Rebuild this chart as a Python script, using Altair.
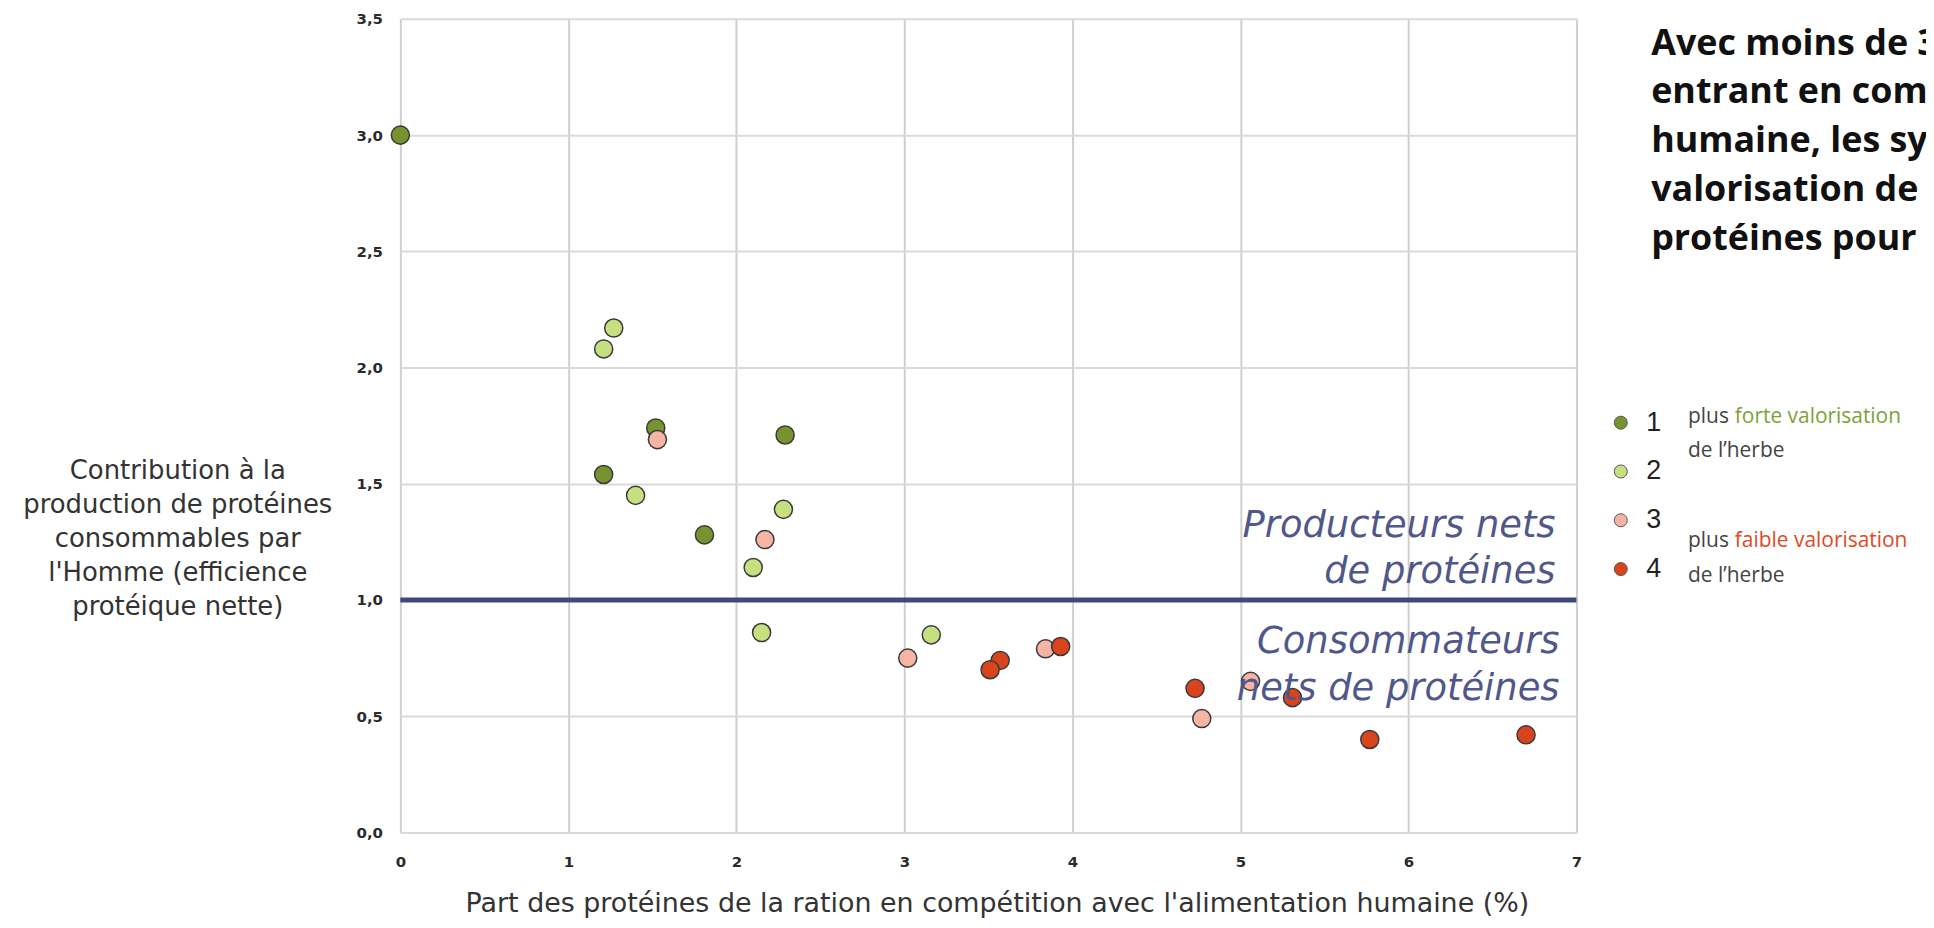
import altair as alt
import pandas as pd

# ---- data ----
groups = ["1", "2", "3", "4"]
group_colors = ["#76932f", "#c6e07f", "#f6b4a4", "#d9441d"]

g1_x = [0.0, 1.52, 2.29, 1.21, 1.81]
g1_y = [3.0, 1.74, 1.71, 1.54, 1.28]
g2_x = [1.27, 1.21, 1.40, 2.28, 2.10, 2.15, 3.16]
g2_y = [2.17, 2.08, 1.45, 1.39, 1.14, 0.86, 0.85]
g3_x = [1.53, 2.17, 3.02, 3.84, 5.06, 4.77]
g3_y = [1.69, 1.26, 0.75, 0.79, 0.65, 0.49]
g4_x = [3.57, 3.51, 3.93, 4.73, 5.31, 5.77, 6.70]
g4_y = [0.74, 0.70, 0.80, 0.62, 0.58, 0.40, 0.42]

x_ticks = [0, 1, 2, 3, 4, 5, 6, 7]
y_ticks = [0.0, 0.5, 1.0, 1.5, 2.0, 2.5, 3.0, 3.5]
threshold = 1.0

x_title = "Part des protéines de la ration en compétition avec l'alimentation humaine (%)"
y_title = ["Contribution à la", "production de protéines", "consommables par",
           "l'Homme (efficience", "protéique nette)"]
note_lines = ["Avec moins de 3", "entrant en compétition", "humaine, les systèmes",
              "valorisation de l'herbe", "protéines pour l'Homme"]
zone_up = ["Producteurs nets", "de protéines"]
zone_down = ["Consommateurs", "nets de protéines"]

rows = []
for g, xs, ys in zip(groups, [g1_x, g2_x, g3_x, g4_x], [g1_y, g2_y, g3_y, g4_y]):
    for a, b in zip(xs, ys):
        rows.append({"x": a, "y": b, "groupe": g})
df = pd.DataFrame(rows)
one = pd.DataFrame({"k": [0]})

points = alt.Chart(df).mark_circle(
    size=330, stroke="#3a3a3a", strokeWidth=1.5, opacity=1, fillOpacity=1
).encode(
    x=alt.X("x:Q", scale=alt.Scale(domain=[0, 7], nice=False),
            axis=alt.Axis(values=x_ticks, title=x_title, grid=True, gridColor="#cfcfcf",
                          gridWidth=2, domain=False, ticks=False, tickSize=0,
                          labelFont="DejaVu Sans", labelFontWeight="bold", labelFontSize=15,
                          labelColor="#2b2b2b", labelPadding=22, labelFlush=False,
                          labelExpr="format(datum.value, 'd')",
                          titleFont="DejaVu Sans", titleFontSize=27, titleFontWeight="normal",
                          titleColor="#333333", titleX=599, titleY=79,
                          titleAlign="center", titleBaseline="alphabetic")),
    y=alt.Y("y:Q", scale=alt.Scale(domain=[0, 3.5], nice=False),
            axis=alt.Axis(values=y_ticks, title=y_title, grid=True, gridColor="#dadada",
                          gridWidth=2, domain=False, ticks=False, tickSize=0,
                          labelFont="DejaVu Sans", labelFontWeight="bold", labelFontSize=15,
                          labelColor="#2b2b2b", labelPadding=18, labelFlush=False,
                          labelBaseline="middle",
                          labelExpr="replace(format(datum.value, '.1f'), '.', ',')",
                          titleFont="DejaVu Sans", titleFontSize=26, titleFontWeight="normal",
                          titleColor="#333333", titleAngle=0, titleX=-224, titleY=462,
                          titleAlign="center", titleBaseline="alphabetic",
                          titleLineHeight=34)),
    fill=alt.Fill("groupe:N", scale=alt.Scale(domain=groups, range=group_colors),
                  legend=alt.Legend(orient="none", legendX=1212, legendY=392,
                                    direction="vertical", title=None,
                                    symbolType="circle", symbolSize=170,
                                    symbolStrokeColor="#555555", symbolStrokeWidth=1,
                                    labelFont="Liberation Sans", labelFontSize=27,
                                    labelColor="#222222", labelOffset=12,
                                    rowPadding=21, padding=0)),
)

rule = alt.Chart(one).mark_rule(color="#41487e", strokeWidth=5).encode(
    y=alt.datum(threshold)
)


def txt(text, x, y, **kw):
    return alt.Chart(one).mark_text(**kw).encode(
        x=alt.value(x), y=alt.value(y), text=alt.value(text)
    )


zone_style = dict(font="DejaVu Sans", fontStyle="italic", fontSize=37,
                  color="#50578a", align="right", baseline="alphabetic")
zones = [
    txt(zone_up[0], 1160, 520, **zone_style),
    txt(zone_up[1], 1160, 566, **zone_style),
    txt(zone_down[0], 1164, 637, **zone_style),
    txt(zone_down[1], 1164, 684, **zone_style),
]

note = alt.Chart(one).mark_text(
    font="Open Sans", fontWeight="bold", fontSize=36, color="#111111",
    align="left", baseline="alphabetic", lineHeight=49
).encode(x=alt.value(1256), y=alt.value(36), text=alt.value(note_lines))

leg_style = dict(font="Open Sans", fontSize=21, align="left", baseline="alphabetic")
legend_notes = [
    txt("plus", 1293, 406, color="#444444", **leg_style),
    txt("forte valorisation", 1340, 406, color="#7ea13a", **leg_style),
    txt("de l’herbe", 1293, 440, color="#444444", **leg_style),
    txt("plus", 1293, 530, color="#444444", **leg_style),
    txt("faible valorisation", 1340, 530, color="#e04a25", **leg_style),
    txt("de l’herbe", 1293, 565, color="#444444", **leg_style),
]

chart = alt.layer(rule, points, *zones, note, *legend_notes).properties(
    width=1181, height=817,
    autosize=alt.AutoSizeParams(type="none"),
    padding={"left": 394, "top": 9, "right": 351, "bottom": 86},
    background="white",
).configure_view(strokeWidth=0)

chart.save("out.html", embed_options={"renderer": "svg", "actions": False})
